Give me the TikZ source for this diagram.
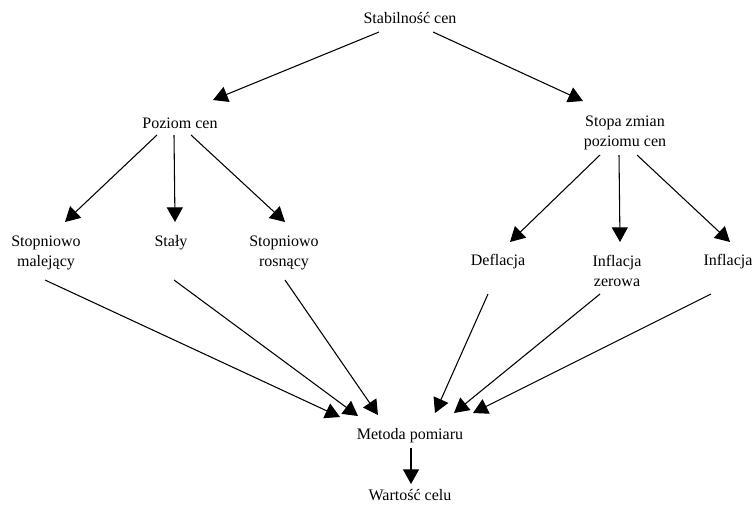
\documentclass[tikz,border=0pt]{standalone}
\usepackage{fontspec}
\setmainfont{Liberation Serif}
\newfontfamily\timesfont{Liberation Serif}
\usepackage{tikz}
\usetikzlibrary{arrows.meta,calc}

\begin{document}
\begin{tikzpicture}[
  x=0.75pt, y=-0.75pt,
  font=\timesfont\fontsize{12pt}{15pt}\selectfont,
  lbl/.style={inner sep=0pt, align=center},
  arr/.style={line width=0.8pt, -{Triangle[length=11pt, width=12pt]}}
]
\useasboundingbox (0,0) rectangle (752,508);

\node[lbl] (stab)  at (410,18)  {Stabilność cen};
\node[lbl] (poz)   at (180,123) {Poziom cen};
\node[lbl] (stopa) at (625,133) {Stopa zmian\\poziomu cen};

\node[lbl] (mal)   at (46,253)  {Stopniowo\\malejący};
\node[lbl] (staly) at (171,243) {Stały};
\node[lbl] (ros)   at (284,253) {Stopniowo\\rosnący};
\node[lbl] (defl)  at (498,262) {Deflacja};
\node[lbl] (zer)   at (617,271) {Inflacja\\zerowa};
\node[lbl] (infl)  at (728,262) {Inflacja};

\node[lbl] (met)   at (410,436) {Metoda pomiaru};
\node[lbl] (wart)  at (410,495) {Wartość celu};

% top level
\draw[arr] ($(stab)+(-31,14)$) -- ($(poz)+(33,-23)$);
\draw[arr] ($(stab)+(23,14)$)  -- ($(stopa)+(-42,-32)$);

% price level
\draw[arr] ($(poz)+(-23,12)$) -- ($(mal)+(19,-31)$);
\draw[arr] ($(poz)+(-6,12)$)  -- ($(staly)+(4,-21)$);
\draw[arr] ($(poz)+(11,12)$)  -- ($(ros)+(1,-31)$);

% rate of change
\draw[arr] ($(stopa)+(-25,22)$) -- ($(defl)+(12,-20)$);
\draw[arr] ($(stopa)+(-6,22)$)  -- ($(zer)+(3,-29)$);
\draw[arr] ($(stopa)+(12,22)$)  -- ($(infl)+(2,-20)$);

% into the method
\draw[arr] ($(mal)+(-1,27)$)   -- ($(met)+(-70,-19)$);
\draw[arr] ($(staly)+(3,37)$)  -- ($(met)+(-52,-20)$);
\draw[arr] ($(ros)+(1,27)$)    -- ($(met)+(-32,-21)$);
\draw[arr] ($(defl)+(-10,32)$) -- ($(met)+(25,-23)$);
\draw[arr] ($(zer)+(-17,23)$)  -- ($(met)+(44,-23)$);
\draw[arr] ($(infl)+(-17,32)$) -- ($(met)+(63,-23)$);

\draw[arr] ($(met)+(1,12)$) -- ($(wart)+(1,-11)$);
\end{tikzpicture}
\end{document}
